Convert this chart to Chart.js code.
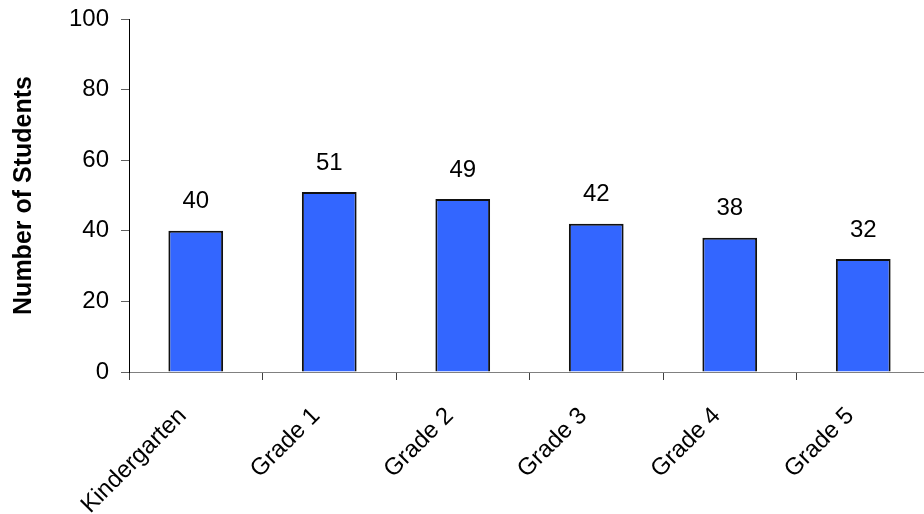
<!DOCTYPE html>
<html>
<head>
<meta charset="utf-8">
<script src="https://cdn.jsdelivr.net/npm/chart.js@4/dist/chart.umd.min.js"></script>
<style>
  html, body { margin: 0; padding: 0; background: #ffffff; }
  #wrap { width: 924px; height: 514px; overflow: hidden; position: relative; }
  canvas { display: block; }
</style>
</head>
<body>
<div id="wrap"><canvas id="chart" width="940" height="514"></canvas></div>
<script>
// Enrolment by grade
const grades = ['Kindergarten', 'Grade 1', 'Grade 2', 'Grade 3', 'Grade 4', 'Grade 5'];
const students = [40, 51, 49, 42, 38, 32];
const yTicks = [0, 20, 40, 60, 80, 100];
const yTitle = 'Number of Students';

const FONT = '"Liberation Sans", Arial, Helvetica, sans-serif';

// Writes each bar's value centred above it
const valueLabels = {
  id: 'valueLabels',
  afterDatasetsDraw(chart) {
    const ctx = chart.ctx;
    const meta = chart.getDatasetMeta(0);
    const data = chart.data.datasets[0].data;
    ctx.save();
    ctx.font = '24px ' + FONT;
    ctx.fillStyle = '#000000';
    ctx.textAlign = 'center';
    ctx.textBaseline = 'middle';
    meta.data.forEach((bar, i) => {
      ctx.fillText(String(data[i]), bar.x, bar.y - 29);
    });
    ctx.restore();
  }
};

new Chart(document.getElementById('chart'), {
  type: 'bar',
  data: {
    labels: grades,
    datasets: [{
      data: students,
      backgroundColor: '#3366FF',
      borderColor: '#111111',
      borderWidth: 2,
      borderSkipped: 'start',
      categoryPercentage: 1.0,
      barPercentage: 0.41
    }]
  },
  options: {
    responsive: false,
    animation: false,
    devicePixelRatio: 1,
    layout: { padding: { top: 19, right: 10, bottom: 0, left: 0 } },
    plugins: {
      legend: { display: false },
      tooltip: { enabled: false }
    },
    scales: {
      x: {
        offset: true,
        grid: {
          offset: true,
          drawOnChartArea: false,
          drawTicks: true,
          tickLength: 8,
          color: '#404040'
        },
        border: { display: true, color: '#808080', width: 1 },
        ticks: {
          color: '#000000',
          font: { family: FONT, size: 24 },
          minRotation: 45,
          maxRotation: 45,
          padding: 22,
          labelOffset: -13,
          autoSkip: false
        },
        afterFit(scale) { scale.height = 142; }
      },
      y: {
        min: 0,
        max: 100,
        afterBuildTicks(scale) { scale.ticks = yTicks.map(v => ({ value: v })); },
        grid: {
          drawOnChartArea: false,
          drawTicks: true,
          tickLength: 8,
          color: '#606060'
        },
        border: { display: true, color: '#000000', width: 1 },
        ticks: {
          color: '#000000',
          font: { family: FONT, size: 24 },
          padding: 12
        },
        title: {
          display: true,
          text: yTitle,
          color: '#000000',
          font: { family: FONT, size: 25, weight: 'bold' },
          padding: { top: 9, bottom: 0 }
        },
        afterFit(scale) {
          scale.width = 129;
          scale.paddingTop = 0;
          scale.paddingBottom = 0;
        }
      }
    }
  },
  plugins: [valueLabels]
});
</script>
</body>
</html>
